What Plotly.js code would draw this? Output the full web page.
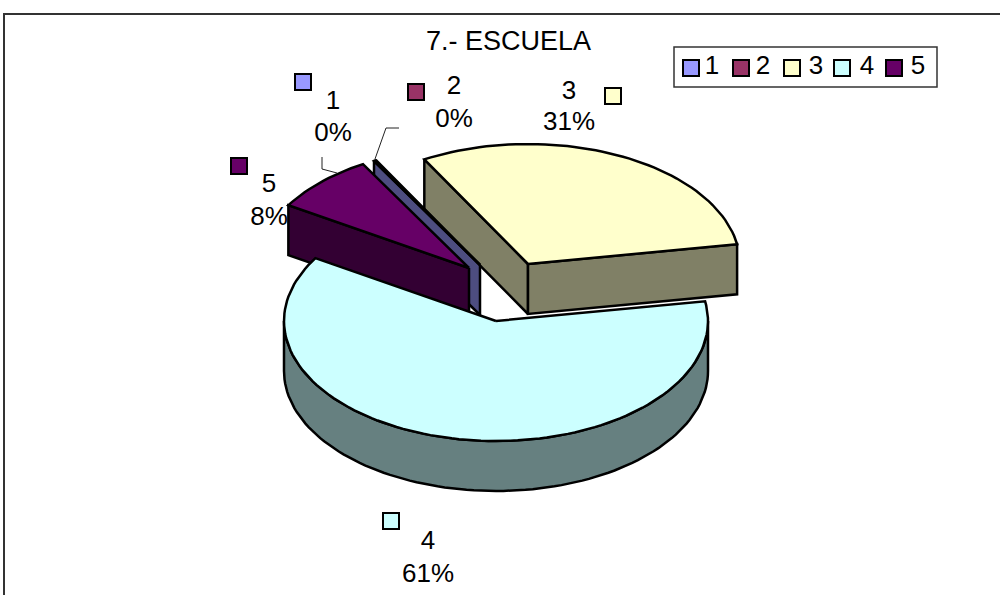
<!DOCTYPE html>
<html><head><meta charset="utf-8">
<script src="https://cdn.plot.ly/plotly-3.0.1.min.js"></script>
<style>html,body{margin:0;padding:0;background:#fff}#c{width:1000px;height:595px}</style>
</head><body><div id="c"></div>
<script>
const categories = ['1','2','3','4','5'];
const values = [0.1,0.1,30.5,61.4,7.9];
const topColors = ['#9999FF','#993366','#FFFFCC','#CCFFFF','#660066'];
const sideColors = ['#4D4D80','#4D1A33','#808066','#668080','#330033'];
const startAngle = 120;           // degrees, slices run clockwise
const centers = [[480,265],[480,265],[528,264],[496,321],[469,268]];
const labelPos = [[333,102,134],[454,87,120],[569,92,123],[428,542,575],[269,185,218]];
const swatchPos = [[303,82],[416,92],[613,96],[391,521],[239,166]];
const legendSwatchX = [691,741,792,842,894];
const legendTextX = [712,763,816,867,918];
const rx = 212, ry = 120, depth = 50;
const FONT = 'Liberation Sans, Arial, sans-serif';

const total = values.reduce((a,b)=>a+b,0);
const rad = d => d*Math.PI/180;
function pt(c,a,dz){return [c[0]+rx*Math.cos(rad(a)), c[1]-ry*Math.sin(rad(a))+(dz||0)];}
function arc(c,a0,a1,dz){const out=[];const n=Math.max(2,Math.ceil(Math.abs(a1-a0)/2));
  for(let i=0;i<=n;i++) out.push(pt(c,a0+(a1-a0)*i/n,dz)); return out;}
function poly(points,fill){return {type:'scatter',mode:'lines',x:points.map(p=>p[0]),y:points.map(p=>p[1]),
  fill:'toself',fillcolor:fill,line:{color:'#000',width:2.5,shape:'linear'},showlegend:false,hoverinfo:'skip'};}

let cur=startAngle; const angles=values.map(v=>{const a0=cur; cur-=v/total*360; return [a0,cur];});

function walls(i){
  const c=centers[i],[a0,a1]=angles[i],col=sideColors[i];
  const w=a=>{const p=pt(c,a);return poly([c,p,[p[0],p[1]+depth],[c[0],c[1]+depth],c],col);};
  return {start:w(a0),end:w(a1),
    rim:()=>{const lo=Math.max(a1,-180),hi=Math.min(a0,0);
      return poly(arc(c,hi,lo,0).concat(arc(c,lo,hi,depth)).concat([pt(c,hi)]),col);}};
}
function face(i){const c=centers[i],[a0,a1]=angles[i];
  return poly([c].concat(arc(c,a0,a1)).concat([c]),topColors[i]);}

const traces=[];
const w3=walls(2); traces.push(w3.start,w3.end,face(2));
const w1=walls(0); traces.push(w1.start,face(0),face(1));
const w5=walls(4); traces.push(w5.start,face(4));
const w4=walls(3); traces.push(w4.rim(),face(3));

const leaders=[[[322,157],[322,169],[337,173]],[[399,128],[386,128],[375,159]]];
leaders.forEach(l=>traces.push({type:'scatter',mode:'lines',x:l.map(p=>p[0]),y:l.map(p=>p[1]),
  line:{color:'#222',width:1},showlegend:false,hoverinfo:'skip'}));

const lx=[],ly=[],lt=[];
categories.forEach((c,i)=>{const p=labelPos[i];
  lx.push(p[0],p[0]);ly.push(p[1],p[2]);lt.push(c,Math.round(values[i]/total*100)+'%');
  lx.push(legendTextX[i]);ly.push(67);lt.push(c);});
traces.push({type:'scatter',mode:'text',x:lx,y:ly,text:lt,textposition:'middle center',
  textfont:{family:FONT,size:26,color:'#000'},showlegend:false,hoverinfo:'skip'});

categories.forEach((c,i)=>traces.push({type:'scatter',mode:'markers',name:c,
  x:[swatchPos[i][0]],y:[swatchPos[i][1]],
  marker:{symbol:'square',size:16,color:topColors[i],line:{color:'#000',width:2}},showlegend:false,hoverinfo:'skip'}));
categories.forEach((c,i)=>traces.push({type:'scatter',mode:'markers',name:c,
  x:[legendSwatchX[i]],y:[68],
  marker:{symbol:'square',size:16,color:topColors[i],line:{color:'#000',width:2}},showlegend:false,hoverinfo:'skip'}));

const layout={width:1000,height:595,margin:{l:0,r:0,t:0,b:0},paper_bgcolor:'#fff',plot_bgcolor:'#fff',
  xaxis:{range:[0,1000],visible:false,fixedrange:true},
  yaxis:{range:[595,0],visible:false,fixedrange:true},
  title:{text:'7.- ESCUELA',font:{family:FONT,size:27,color:'#000'},x:0.5085,xanchor:'center',y:1-41/595,yanchor:'middle'},
  shapes:[
    {type:'path',xref:'x',yref:'y',path:'M4,600 L4,14 L1005,14',line:{color:'#333',width:2}},
    {type:'rect',xref:'x',yref:'y',x0:674,x1:937,y0:47,y1:87,line:{color:'#333',width:1.5},fillcolor:'#fff',layer:'below'}
  ],
  showlegend:false};
Plotly.newPlot('c',traces,layout,{displayModeBar:false,staticPlot:true});
</script></body></html>
